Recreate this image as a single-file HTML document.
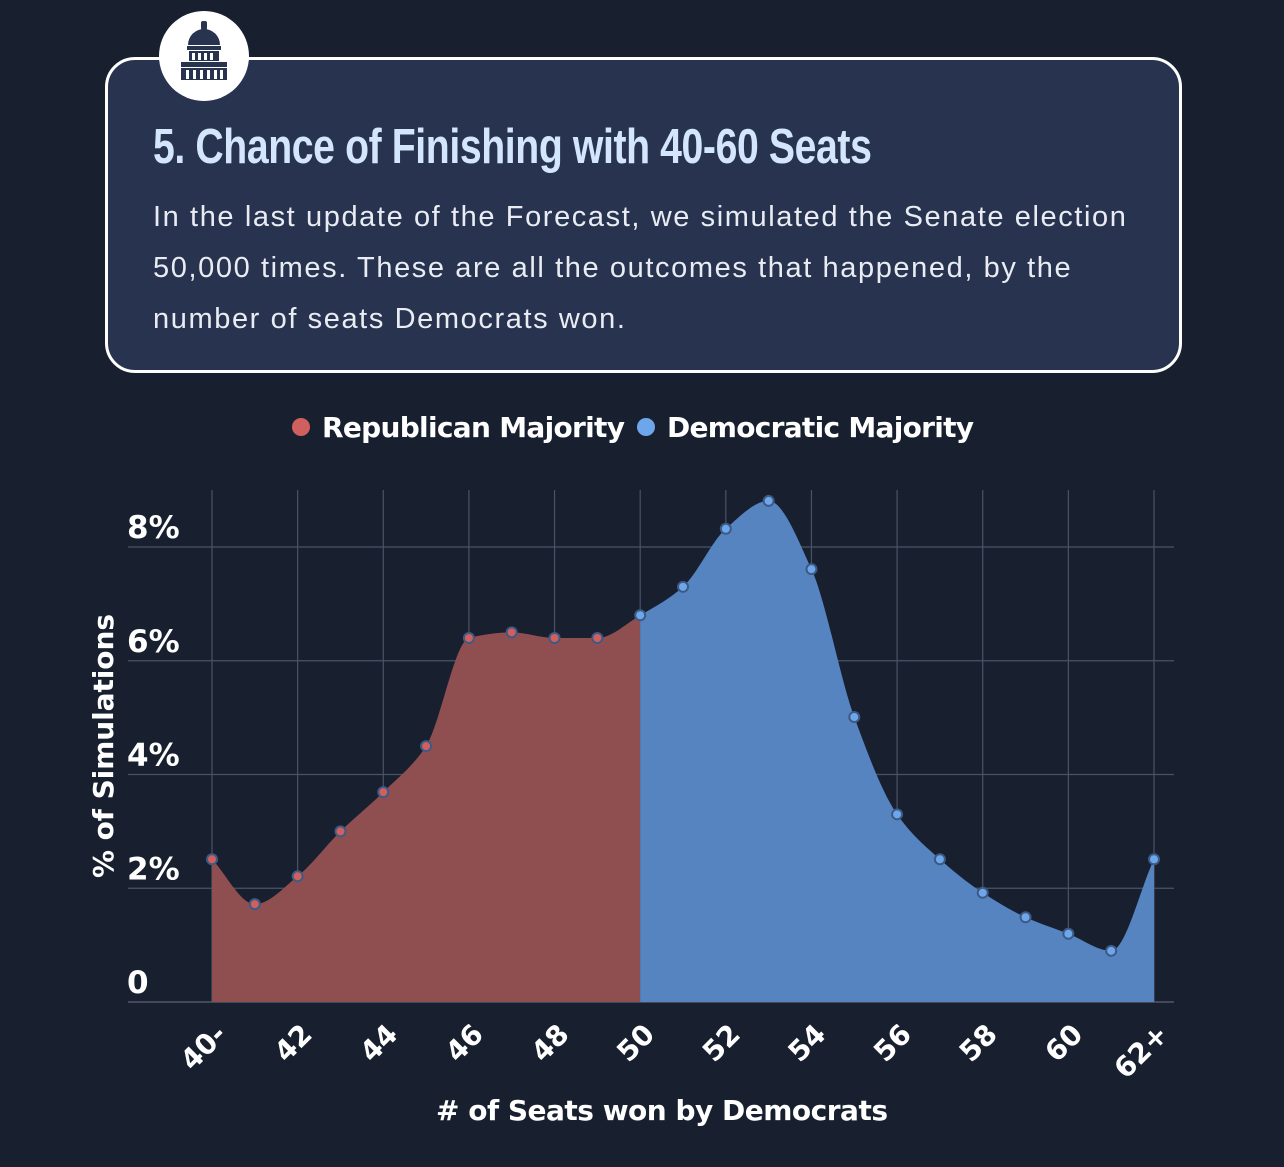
<!DOCTYPE html>
<html><head><meta charset="utf-8"><style>
html,body{margin:0;padding:0;background:#182030;}
body{width:1284px;height:1167px;position:relative;overflow:hidden;font-family:"Liberation Sans",sans-serif;}
#card{position:absolute;left:105px;top:57px;width:1071px;height:310px;border:3px solid #fff;border-radius:30px;background:#283350;box-sizing:content-box;}
#icon{position:absolute;left:159px;top:11px;width:90px;height:90px;border-radius:50%;background:#fff;}
#title{position:absolute;left:153px;top:119px;font-weight:bold;font-size:49px;color:#d3e6fc;letter-spacing:-0.5px;white-space:nowrap;transform-origin:0 0;transform:scaleX(0.80);}
#desc{position:absolute;left:153px;top:192px;width:1100px;font-size:29px;line-height:51px;color:#e9edf3;letter-spacing:1.6px;white-space:nowrap;}
</style></head><body>
<div id="card"></div>
<div id="icon">
<svg width="90" height="90" viewBox="0 0 90 90">
<rect x="42" y="10" width="6" height="9" rx="2" fill="#283350"/>
<path d="M29 34 A16 16 0 0 1 61 34 Z" fill="#283350"/>
<rect x="28" y="35" width="34" height="4" fill="#283350"/>
<rect x="30" y="40" width="30" height="10" fill="#283350"/>
<rect x="22" y="51" width="46" height="5" fill="#283350"/>
<rect x="22" y="57" width="46" height="12" fill="#283350"/>
<g fill="#fff"><rect x="33" y="42" width="3" height="7"/><rect x="39" y="42" width="3" height="7"/><rect x="45" y="42" width="3" height="7"/><rect x="51" y="42" width="3" height="7"/>
<rect x="27" y="59" width="3" height="9"/><rect x="34" y="59" width="3" height="9"/><rect x="41" y="59" width="3" height="9"/><rect x="48" y="59" width="3" height="9"/><rect x="55" y="59" width="3" height="9"/><rect x="61" y="59" width="3" height="9"/></g>
</svg></div>
<div id="title">5. Chance of Finishing with 40-60 Seats</div>
<div id="desc">In the last update of the Forecast, we simulated the Senate election<br>50,000 times. These are all the outcomes that happened, by the<br>number of seats Democrats won.</div>
<svg id="chart" width="1284" height="1167" style="position:absolute;left:0;top:0"></svg>
<script>
const seats=[40,41,42,43,44,45,46,47,48,49,50,51,52,53,54,55,56,57,58,59,60,61,62];
const pct=[2.51,1.72,2.21,3.0,3.69,4.5,6.4,6.5,6.4,6.4,6.8,7.3,8.32,8.81,7.61,5.01,3.3,2.51,1.92,1.49,1.2,0.9,2.51];
const yTicks=[0,2,4,6,8];
const yTickLabels=["0","2%","4%","6%","8%"];
const xTicks=[40,42,44,46,48,50,52,54,56,58,60,62];
const xTickLabels=["40-","42","44","46","48","50","52","54","56","58","60","62+"];
const split=50;
const NS="http://www.w3.org/2000/svg";
const svg=document.getElementById('chart');
const X=v=>212+(v-40)*(1154-212)/22;
const Y=v=>1002-v*(1002-547)/8;
const F='"DejaVu Sans","Liberation Sans",sans-serif';
function mk(t,a,p){const e=document.createElementNS(NS,t);for(const k in a)e.setAttribute(k,a[k]);(p||svg).appendChild(e);return e;}
yTicks.forEach((t,i)=>{
 const l=mk('line',{x1:128,x2:1174,y1:Y(t),y2:Y(t),stroke:i==0?'#5a6275':'#4a5366','stroke-width':1.2});
 
 
 const tx=mk('text',{x:127,y:Y(t)-9,fill:'#fff','font-size':31,'font-weight':'bold','font-family':F});
 tx.textContent=yTickLabels[i];
 
 
});
xTicks.forEach((t,i)=>{
 const l=mk('line',{x1:X(t),x2:X(t),y1:490,y2:1002,stroke:'#4a5366','stroke-width':1.2});
 
 
 const tx=mk('text',{x:0,y:0,fill:'#fff','font-size':28,'font-weight':'bold','font-family':F,'text-anchor':'end',transform:`translate(${X(t)+16},${1036}) rotate(-45)`});
 tx.textContent=xTickLabels[i];
 
 
});
const px=seats.map(X),py=pct.map(Y),n=px.length;
const d=[],m=[];
for(let i=0;i<n-1;i++)d.push((py[i+1]-py[i])/(px[i+1]-px[i]));
for(let i=0;i<n;i++){
 if(i==0)m.push(d[0]);else if(i==n-1)m.push(d[n-2]);
 else m.push(d[i-1]*d[i]<=0?0:(2*d[i-1]*d[i])/(d[i-1]+d[i]));
}
function seg(i){const h=(px[i+1]-px[i])/3;return ` C${px[i]+h},${py[i]+m[i]*h} ${px[i+1]-h},${py[i+1]-m[i+1]*h} ${px[i+1]},${py[i+1]}`;}
const si=seats.indexOf(split);
let pr=`M${px[0]},${Y(0)} L${px[0]},${py[0]}`;for(let i=0;i<si;i++)pr+=seg(i);pr+=` L${px[si]},${Y(0)} Z`;
let pb=`M${px[si]},${Y(0)} L${px[si]},${py[si]}`;for(let i=si;i<n-1;i++)pb+=seg(i);pb+=` L${px[n-1]},${Y(0)} Z`;
const ar=mk('path',{d:pr,fill:'#8f4f51'});


const ab=mk('path',{d:pb,fill:'#5584c0'});


seats.forEach((s,i)=>{
 const c=mk('circle',{cx:px[i],cy:py[i],r:5,fill:s<split?'#d0605e':'#6ea6ec',stroke:'#3d5a85','stroke-width':2});
 
 
});
const lg=mk('g',{});


mk('circle',{cx:301,cy:427,r:9,fill:'#d0605e'},lg);
const t1=mk('text',{x:322,y:437,fill:'#fff','font-size':28,'font-weight':'bold','font-family':F,textLength:303},lg);t1.textContent='Republican Majority';


mk('circle',{cx:646,cy:427,r:9,fill:'#6ea6ec'},lg);
const t2=mk('text',{x:667,y:437,fill:'#fff','font-size':28,'font-weight':'bold','font-family':F,textLength:307},lg);t2.textContent='Democratic Majority';


const xt=mk('text',{x:662,y:1120,fill:'#fff','font-size':28,'font-weight':'bold','font-family':F,'text-anchor':'middle',textLength:452});xt.textContent='# of Seats won by Democrats';


const yt=mk('text',{x:0,y:0,fill:'#fff','font-size':28,'font-weight':'bold','font-family':F,'text-anchor':'middle',textLength:264,transform:'translate(113,746) rotate(-90)'});yt.textContent='% of Simulations';


</script>
</body></html>
